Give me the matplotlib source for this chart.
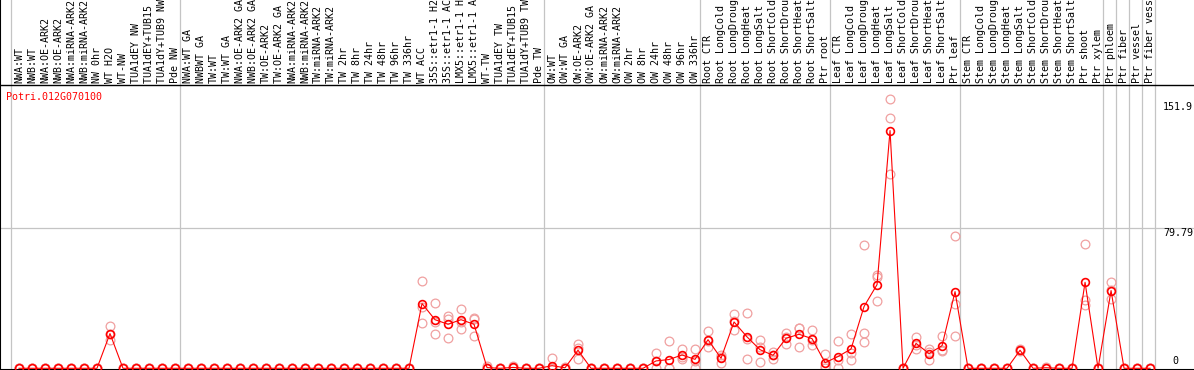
import matplotlib
matplotlib.use("Agg")
import matplotlib.pyplot as plt
import numpy as np

gene = "Potri.012G070100"

labels = [
    # NW
    "NWA:WT", "NWB:WT", "NWA:OE-ARK2", "NWB:OE-ARK2", "NWA:miRNA-ARK2", "NWB:miRNA-ARK2",
    "NW 0hr", "WT H2O", "WT-NW", "TUA1dEY NW", "TUA1dEY+TUB15 NW", "TUA1dY+TUB9 NW", "Pde NW",
    # TW
    "NWA:WT GA", "NWBWT GA", "TW:WT", "TW:WT GA", "NWA:OE-ARK2 GA", "NWB:OE-ARK2 GA",
    "TW:OE-ARK2", "TW:OE-ARK2 GA", "NWA:miRNA-ARK2", "NWB:miRNA-ARK2", "TW:miRNA-ARK2",
    "TW:miRNA-ARK2", "TW 2hr", "TW 8hr", "TW 24hr", "TW 48hr", "TW 96hr", "TW 336hr",
    "WT ACC", "35S::etr1-1 H2O", "35S::etr1-1 ACC", "LMX5::etr1-1 H2O", "LMX5::etr1-1 ACC",
    "WT-TW", "TUA1dEY TW", "TUA1dEY+TUB15 TW", "TUA1dY+TUB9 TW", "Pde TW",
    # OW
    "OW:WT", "OW:WT GA", "OW:OE-ARK2", "OW:OE-ARK2 GA", "OW:miRNA-ARK2", "OW:miRNA-ARK2",
    "OW 2hr", "OW 8hr", "OW 24hr", "OW 48hr", "OW 96hr", "OW 336hr",
    # root
    "Root CTR", "Root LongCold", "Root LongDrought", "Root LongHeat", "Root LongSalt",
    "Root ShortCold", "Root ShortDrought", "Root ShortHeat", "Root ShortSalt", "Ptr root",
    # leaf
    "Leaf CTR", "Leaf LongCold", "Leaf LongDrought", "Leaf LongHeat", "Leaf LongSalt",
    "Leaf ShortCold", "Leaf ShortDrought", "Leaf ShortHeat", "Leaf ShortSalt", "Ptr leaf",
    # stem
    "Stem CTR", "Stem LongCold", "Stem LongDrought", "Stem LongHeat", "Stem LongSalt",
    "Stem ShortCold", "Stem ShortDrought", "Stem ShortHeat", "Stem ShortSalt", "Ptr shoot",
    "Ptr xylem",
    "Ptr phloem", "Ptr fiber", "Ptr vessel", "Ptr fiber vessel",
]

group_sizes = [13, 28, 12, 10, 10, 11, 1, 1, 1, 1]

means = [
    0, 0, 0, 0, 0, 0, 0, 19.8, 0, 0, 0, 0, 0,
    0, 0, 0, 0, 0, 0, 0, 0, 0, 0, 0, 0, 0, 0, 0, 0, 0, 0,
    36.9, 27.7, 25.1, 27.7, 25.1, 0.4, 0, 0.5, 0, 0,
    1.5, 0.3, 10.3, 0, 0, 0, 0, 0, 4.2, 5.0, 7.6, 5.1,
    16.3, 5.7, 26.4, 17.9, 10.6, 7.4, 17.1, 19.4, 16.9, 3.2,
    6.7, 11.0, 35.2, 47.7, 135.5, 0, 14.2, 8.4, 12.9, 43.7,
    0, 0, 0, 0, 10.3, 0, 0.3, 0, 0, 49.0, 0,
    44.3, 0, 0, 0,
]

z = [0, 0, 0]
reps = [
    z, z, z, z, z, z, z, [24.1, 19.3, 16.0], z, z, z, z, z,
    z, z, z, z, z, z, z, z, z, z, z, z, z, z, z, z, z, z,
    [50.0, 34.7, 26.0], [37.4, 26.3, 19.4], [29.6, 28.2, 17.5], [34.0, 26.5, 22.6],
    [28.3, 28.4, 18.6], [1.4, 0, 0], z, [1.5, 0, 0], z, z,
    [6.1, 0, 0], [0.9, 0, 0], [14.1, 11.5, 5.3], z, z, z, z, z,
    [8.7, 4.0, 0], [15.4, 0.2, 0], [11.0, 6.6, 5.3], [11.2, 4.0, 0.2],
    [21.1, 15.7, 12.1], [6.3, 7.4, 3.2], [30.8, 26.7, 21.7], [31.7, 16.5, 5.5],
    [16.3, 11.9, 3.6], [9.3, 7.8, 5.1], [20.1, 17.6, 13.6], [23.2, 22.9, 12.1],
    [21.7, 15.9, 13.1], [8.4, 1.2, 0],
    [15.4, 4.7, 0], [19.4, 8.9, 4.6], [70.1, 20.3, 14.8], [53.0, 51.9, 38.2],
    [153.7, 142.9, 110.8], z, [17.9, 13.5, 11.2], [11.2, 9.4, 4.6],
    [18.2, 10.6, 9.9], [75.2, 36.9, 18.2],
    z, z, z, z, [11.0, 10.3, 9.6], z, [1.0, 0, 0], z, z, [70.7, 38.8, 36.3], z,
    [49.0, 44.6, 39.3], z, z, z,
]

ytick_values = [151.9, 79.79, 0]
ytick_labels = ["151.9", "79.79", "0"]

mono = "DejaVu Sans Mono"
fs = 7.2
header_y = 161.5   # border between label strip and plot

fig = plt.figure(figsize=(11.94, 3.70), dpi=100)
ax = fig.add_axes([0, 0, 1, 1])
ax.set_xlim(-1.46, 90.38)
ax.set_ylim(-0.97, 209.9)
ax.set_xticks([])
ax.set_yticks([])
for s in ["top", "right"]:
    ax.spines[s].set_visible(False)
ax.spines["left"].set_linewidth(1.5)
ax.spines["bottom"].set_linewidth(1.5)

x = np.arange(len(labels))

# group separators
bounds = np.cumsum([0] + group_sizes) - 0.6
for b in bounds:
    ax.axvline(b, color="#c4c4c4", lw=0.9, zorder=0)
ax.axhline(79.79, color="#c4c4c4", lw=0.9, zorder=0)
ax.axhline(header_y, color="black", lw=1.0, zorder=1)

# replicates
for xi, r in zip(x, reps):
    ax.plot([xi] * len(r), r, ls="none", marker="o", ms=6.3, mfc="none",
            mec="#f0a0a0", mew=0.9, zorder=2, clip_on=True)

# mean line
ax.plot(x, means, color="red", lw=0.8, zorder=3)
ax.plot(x, means, ls="none", marker="o", ms=5.6, mfc="none", mec="red",
        mew=1.2, zorder=4)

# sample labels
for xi, lab in zip(x, labels):
    ax.text(xi, header_y + 1.2, lab, rotation=90, ha="center", va="bottom",
            family=mono, fontsize=fs, color="black", clip_on=False)

# value labels on the right
ytr = ax.get_yaxis_transform()
for v, t in zip(ytick_values, ytick_labels):
    va = "bottom" if v == 0 else "top"
    xpos = 0.982 if v == 0 else 0.974
    ax.text(xpos, v + (1.5 if v == 0 else 0), t, transform=ytr, ha="left", va=va,
            family=mono, fontsize=fs, color="black")

ax.text(0.005, 154.5, gene, transform=ytr, ha="left", va="center",
        family=mono, fontsize=fs, color="red")

fig.savefig("out.png", dpi=100)
